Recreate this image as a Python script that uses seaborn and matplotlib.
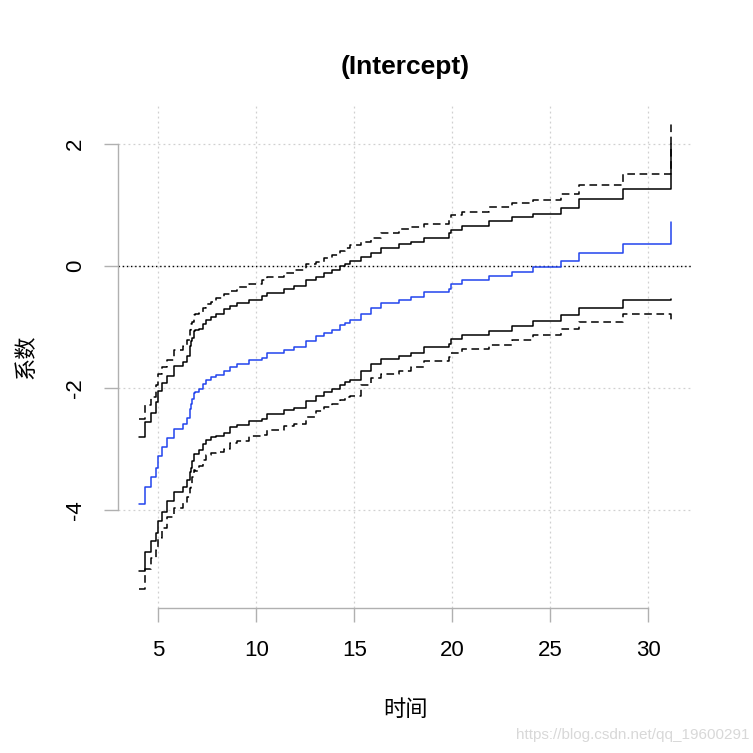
import numpy as np
import pandas as pd
import matplotlib
matplotlib.use("Agg")
import matplotlib.pyplot as plt
import seaborn as sns

sns.set_theme(style="white")
plt.rcParams['font.family'] = ['Liberation Sans', 'Noto Sans CJK SC', 'DejaVu Sans']
plt.rcParams['text.color'] = 'black'
plt.rcParams['axes.labelcolor'] = 'black'

# step times (jump points)
time = [4.03, 4.32, 4.61, 4.88, 4.98, 5.17, 5.44, 5.80, 6.24, 6.46,
        6.60, 6.65, 6.72, 6.80, 6.87, 7.06, 7.26, 7.46, 7.67, 7.97,
        8.38, 8.66, 9.03, 9.61, 10.29, 10.53, 11.39, 11.90, 12.52, 13.03,
        13.43, 13.84, 14.25, 14.51, 14.76, 15.32, 15.87, 16.35, 17.28, 17.88,
        18.54, 19.81, 19.91, 20.48, 21.85, 23.03, 24.12, 25.53, 26.46, 28.69,
        31.14]

# estimate (blue)
est = [-3.90, -3.62, -3.46, -3.30, -3.11, -2.97, -2.82, -2.67, -2.59, -2.49,
       -2.34, -2.26, -2.18, -2.07, -2.06, -2.02, -1.93, -1.86, -1.82, -1.78,
       -1.72, -1.65, -1.60, -1.54, -1.50, -1.43, -1.37, -1.32, -1.22, -1.15,
       -1.09, -1.04, -0.97, -0.93, -0.89, -0.78, -0.69, -0.61, -0.55, -0.51,
       -0.43, -0.37, -0.30, -0.23, -0.16, -0.09, -0.02, 0.08, 0.21, 0.36,
       0.73]

# pointwise band (solid black)
upper = [-2.80, -2.56, -2.41, -2.23, -2.05, -1.92, -1.80, -1.64, -1.57, -1.47,
         -1.31, -1.22, -1.17, -1.06, -1.04, -1.03, -0.94, -0.88, -0.84, -0.78,
         -0.71, -0.66, -0.60, -0.55, -0.49, -0.44, -0.38, -0.32, -0.23, -0.18,
         -0.12, -0.07, 0.00, 0.04, 0.09, 0.15, 0.22, 0.30, 0.37, 0.40,
         0.46, 0.54, 0.60, 0.66, 0.74, 0.80, 0.86, 0.96, 1.10, 1.27,
         2.00]
lower = [-5.00, -4.68, -4.51, -4.37, -4.17, -4.02, -3.84, -3.70, -3.61, -3.51,
         -3.37, -3.30, -3.19, -3.08, -3.08, -3.01, -2.92, -2.84, -2.80, -2.78,
         -2.73, -2.64, -2.60, -2.53, -2.51, -2.42, -2.36, -2.32, -2.21, -2.12,
         -2.06, -2.01, -1.94, -1.90, -1.87, -1.71, -1.60, -1.52, -1.47, -1.42,
         -1.32, -1.28, -1.20, -1.12, -1.06, -0.98, -0.90, -0.80, -0.68, -0.55,
         -0.54]

# uniform band (dashed black)
upper_u = [-2.51, -2.28, -2.14, -1.95, -1.77, -1.65, -1.54, -1.37, -1.31, -1.21,
           -1.04, -0.95, -0.91, -0.80, -0.78, -0.77, -0.68, -0.62, -0.59, -0.52,
           -0.45, -0.40, -0.34, -0.29, -0.23, -0.18, -0.12, -0.06, 0.03, 0.07,
           0.13, 0.18, 0.25, 0.29, 0.35, 0.39, 0.46, 0.54, 0.61, 0.64,
           0.69, 0.78, 0.83, 0.89, 0.97, 1.03, 1.09, 1.19, 1.33, 1.51,
           2.34]
lower_u = [-5.29, -4.96, -4.78, -4.65, -4.45, -4.29, -4.11, -3.97, -3.88, -3.78,
           -3.64, -3.57, -3.45, -3.34, -3.35, -3.27, -3.18, -3.10, -3.06, -3.04,
           -2.99, -2.90, -2.86, -2.79, -2.77, -2.68, -2.62, -2.58, -2.47, -2.37,
           -2.31, -2.26, -2.19, -2.15, -2.13, -1.95, -1.84, -1.76, -1.71, -1.66,
           -1.55, -1.48, -1.43, -1.35, -1.29, -1.21, -1.13, -1.03, -0.91, -0.79,
           -0.88]

xticks = [5, 10, 15, 20, 25, 30]
yticks = [-4, -2, 0, 2]

df = pd.DataFrame({"time": time, "est": est, "upper": upper, "lower": lower,
                   "upper_u": upper_u, "lower_u": lower_u})

fig = plt.figure(figsize=(7.53, 7.53), dpi=100)
ax = fig.add_axes([118 / 753, 1 - 608 / 753, 574 / 753, 503 / 753])

# grid + zero line
for xt in xticks:
    ax.axvline(xt, color="#d0d0d0", lw=0.9, ls=(0, (1.5, 2.5)), zorder=0)
for yt in yticks:
    ax.axhline(yt, color="#d0d0d0", lw=0.9, ls=(0, (1.5, 2.5)), zorder=0)
ax.axhline(0, color="black", lw=1.0, ls=(0, (1, 2)), zorder=1)

for col in ["upper_u", "lower_u"]:
    sns.lineplot(data=df, x="time", y=col, ax=ax, color="black", lw=1.1,
                 drawstyle="steps-post", estimator=None, sort=False,
                 linestyle=(0, (5, 3)))
for col in ["upper", "lower"]:
    sns.lineplot(data=df, x="time", y=col, ax=ax, color="black", lw=1.1,
                 drawstyle="steps-post", estimator=None, sort=False)
sns.lineplot(data=df, x="time", y="est", ax=ax, color="#2244ee", lw=1.1,
             drawstyle="steps-post", estimator=None, sort=False)

ax.set_xlim(2.95, 32.22)
ax.set_ylim(-5.6, 2.64)

ax.set_xticks(xticks)
ax.set_yticks(yticks)
ax.set_xticklabels([str(v) for v in xticks])
ax.set_yticklabels([str(v) for v in yticks], rotation=90, va="center")

for s in ["top", "right"]:
    ax.spines[s].set_visible(False)
ax.spines["left"].set_bounds(-4, 2)
ax.spines["bottom"].set_bounds(5, 30)
for s in ["left", "bottom"]:
    ax.spines[s].set_color("#b0b0b0")
    ax.spines[s].set_linewidth(1.0)
ax.tick_params(axis="both", direction="out", length=10, width=1.0,
               color="#b0b0b0", labelcolor="black", labelsize=16, pad=13,
               left=True, bottom=True)

ax.set_xlabel("时间", fontsize=16, labelpad=28, color="black")
ax.set_ylabel("系数", fontsize=16, labelpad=20, color="black")
ax.set_title("(Intercept)", fontsize=19, fontweight="bold", pad=22, color="black")

fig.text(0.995, 0.015, "https://blog.csdn.net/qq_19600291", ha="right",
         va="bottom", fontsize=11, color="#d8d8d8")

plt.savefig("out.png", dpi=100)
